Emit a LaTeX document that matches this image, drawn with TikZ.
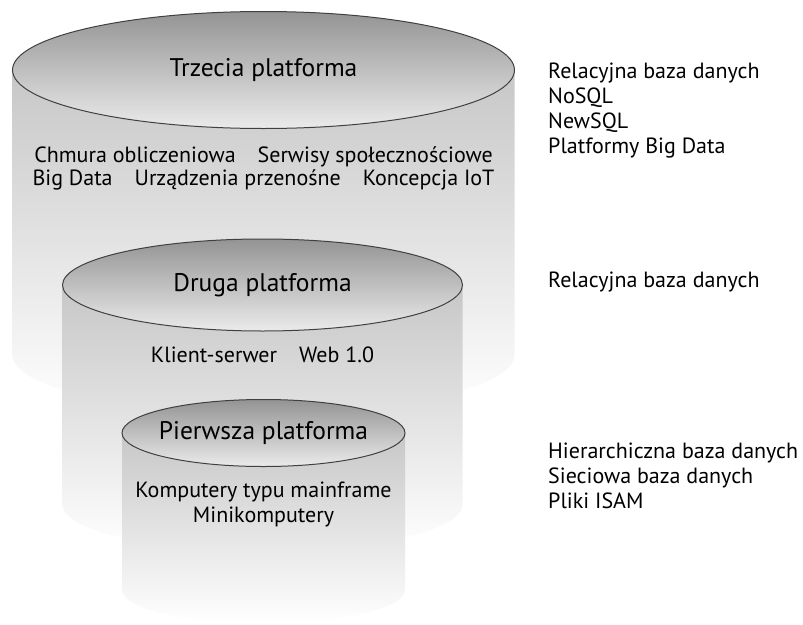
\documentclass[tikz,border=0pt]{standalone}
\usepackage{fontspec}
\setmainfont{PT Sans}
\usetikzlibrary{shapes.geometric}
\usetikzlibrary{positioning}
\tikzstyle{topface}=[ellipse,draw=black!75,line width=1pt,top color=black!42,bottom color=black!8,inner sep=-6pt,font=\fontsize{25.5}{30}\selectfont]
\tikzstyle{body}=[top color=black!22,bottom color=white]
\tikzstyle{inside}=[font=\fontsize{22}{26}\selectfont,anchor=base,inner sep=0pt]
\tikzstyle{dbname}=[font=\fontsize{22}{26}\selectfont,anchor=base west,inner sep=0pt]

\begin{document}
\begin{tikzpicture}[x=1pt,y=-1pt]
    \useasboundingbox (0,0) rectangle (803,624);

    \foreach \cx/\cy/\rx/\ry/\by/\name/\label in {263.5/70/251/58.5/355/third/Trzecia platforma, 262.5/285/200/46/505/second/Druga platforma, 263.5/433/141.5/33.5/590/first/Pierwsza platforma}
    {
        \path[body] (\cx-\rx,\cy) -- (\cx-\rx,\by) arc[start angle=180,end angle=0,x radius=\rx,y radius=\ry] -- (\cx+\rx,\cy) -- cycle;
        \node[topface,minimum width=2*\rx*1pt,minimum height=2*\ry*1pt] (\name) at (\cx,\cy) {\label};
    }

    \foreach \pos/\name/\label in {{(263.5,162)/cloud/Chmura obliczeniowa\quad Serwisy społecznościowe}, {(263.5,185)/mobile/Big Data\quad Urządzenia przenośne\quad Koncepcja IoT}, {(262.5,362)/web/Klient-serwer\quad Web 1.0}, {(263.5,497)/mainframe/Komputery typu mainframe}, {(263.5,522)/mini/Minikomputery}}
        \node[inside] (\name) at \pos {\label};

    \foreach \pos/\name/\label in {{(548,78)/relthird/Relacyjna baza danych}, {(548,103)/nosql/NoSQL}, {(548,128)/newsql/NewSQL}, {(548,153)/bigdata/Platformy Big Data}, {(548,287)/relsecond/Relacyjna baza danych}, {(548,458)/hier/Hierarchiczna baza danych}, {(548,483)/net/Sieciowa baza danych}, {(548,508)/isam/Pliki ISAM}}
        \node[dbname] (\name) at \pos {\label};
\end{tikzpicture}
\end{document}
